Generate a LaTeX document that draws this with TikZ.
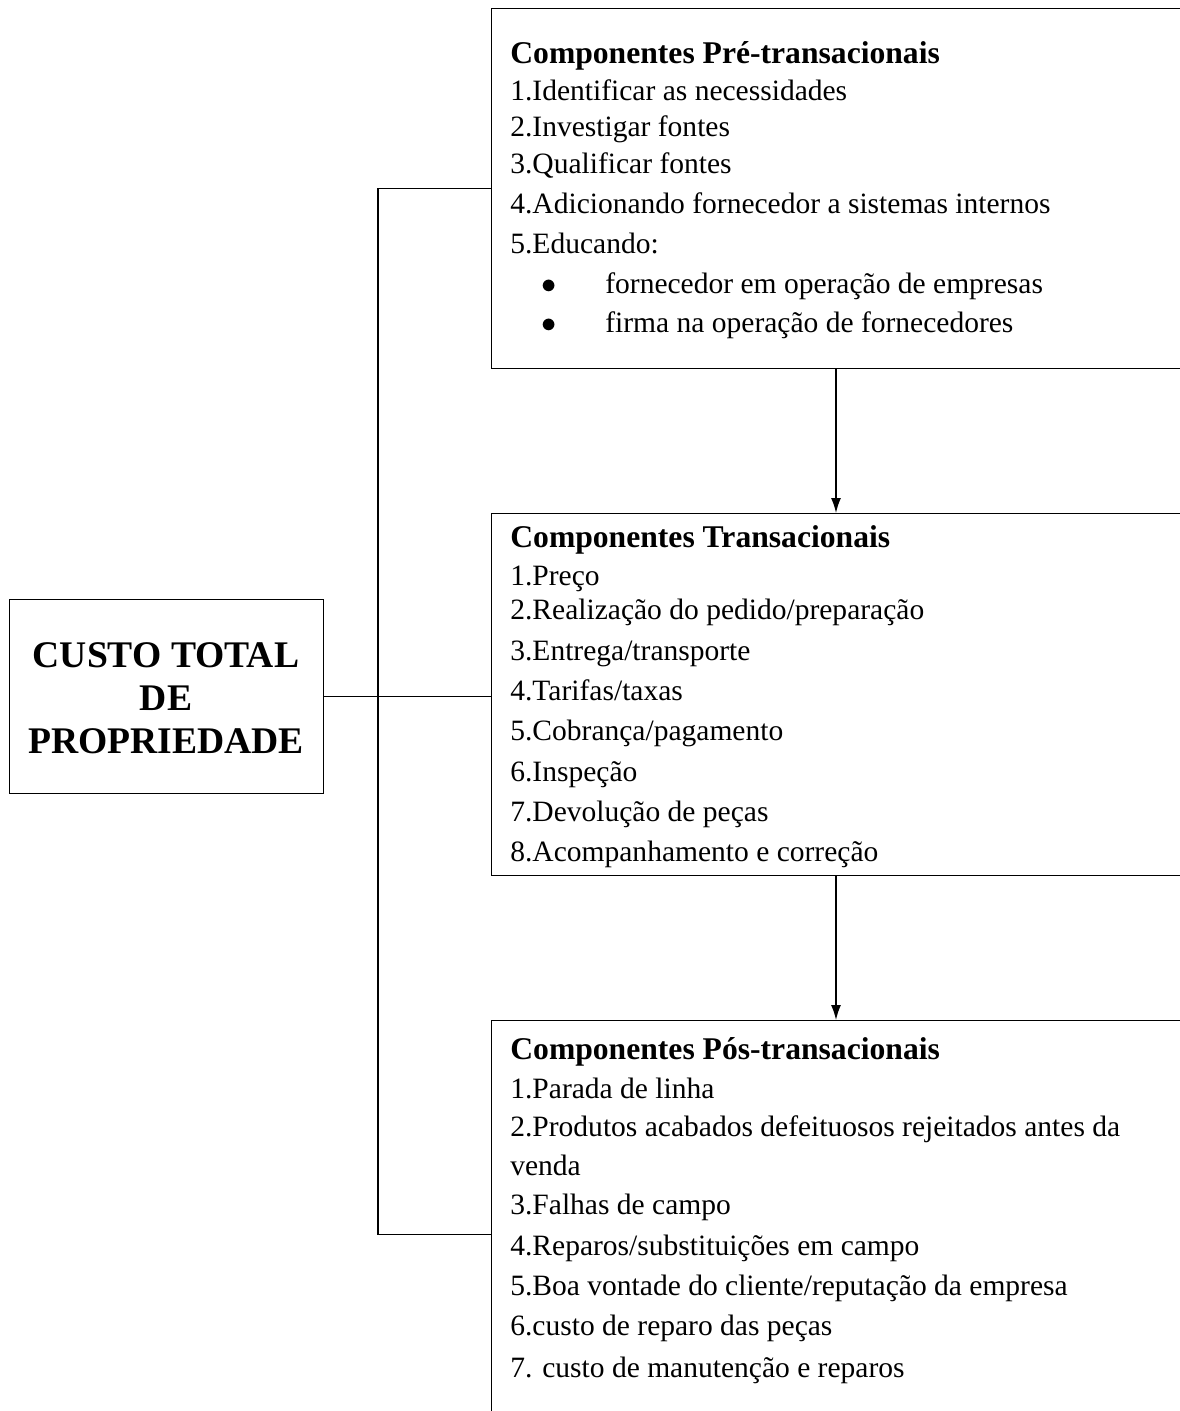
\documentclass[tikz,border=0pt]{standalone}
\usepackage{fontspec}
\setmainfont{Liberation Serif}
\usetikzlibrary{arrows.meta}

\tikzset{
  box/.style={draw, line width=0.8pt, anchor=north west, inner sep=0pt},
  item/.style={anchor=base west, inner sep=0pt, font=\fontsize{16.8}{20}\selectfont},
  head/.style={item, font=\fontsize{18}{20}\selectfont\bfseries},
  link/.style={line width=0.8pt},
  flow/.style={line width=0.8pt, -{Latex[length=3mm, width=2mm]}}
}
\newcommand{\dotitem}{\makebox[1.28cm][l]{$\bullet$}}

\begin{document}
\begin{tikzpicture}[x=0.02cm, y=-0.02cm]

        \useasboundingbox (0,0) rectangle (1180,1411);
        \clip (0,0) rectangle (1180,1411);

        \node[box, minimum width=6.28cm, minimum height=3.88cm] (cost) at (9,599) {};
        \node[box, minimum width=15.6cm, minimum height=7.2cm] (pre) at (491,8) {};
        \node[box, minimum width=15.6cm, minimum height=7.24cm] (trans) at (491,513) {};
        \node[box, minimum width=15.6cm, minimum height=8.56cm] (post) at (491,1020) {};

        % base = last line here
        \node[anchor=base, inner sep=0pt, align=center,
              font=\fontsize{21.4}{24.4}\selectfont\bfseries] (costtext) at (166,753)
              {CUSTO TOTAL\\DE\\PROPRIEDADE};

        % pre-transacionais
        \node[head] (pre-0) at (510,63) {Componentes Pré-transacionais};
        \foreach \y/\t [count=\i] in {100/{1.Identificar as necessidades},
                                       136/{2.Investigar fontes},
                                       173/{3.Qualificar fontes},
                                       213/{4.Adicionando fornecedor a sistemas internos},
                                       253/{5.Educando:}}
          \node[item] (pre-\i) at (510,\y) {\t};
        \node[item] (pre-b1) at (541,293) {\dotitem fornecedor em operação de empresas};
        \node[item] (pre-b2) at (541,332) {\dotitem firma na operação de fornecedores};

        % transacionais
        \node[head] (trans-0) at (510,547) {Componentes Transacionais};
        \foreach \y/\t [count=\i] in {585/{1.Preço},
                                       619/{2.Realização do pedido/preparação},
                                       660/{3.Entrega/transporte},
                                       700/{4.Tarifas/taxas},
                                       740/{5.Cobrança/pagamento},
                                       781/{6.Inspeção},
                                       821/{7.Devolução de peças},
                                       861/{8.Acompanhamento e correção}}
          \node[item] (trans-\i) at (510,\y) {\t};

        % pos-transacionais
        \node[head] (post-0) at (510,1059) {Componentes Pós-transacionais};
        \foreach \y/\t [count=\i] in {1098/{1.Parada de linha},
                                       1136/{2.Produtos acabados defeituosos rejeitados antes da},
                                       1175/{venda},
                                       1214/{3.Falhas de campo},
                                       1255/{4.Reparos/substituições em campo},
                                       1295/{5.Boa vontade do cliente/reputação da empresa},
                                       1335/{6.custo de reparo das peças},
                                       1377/{7. custo de manutenção e reparos}}
          \node[item] (post-\i) at (510,\y) {\t};

        \coordinate (spine) at (378,0);
        \coordinate (down) at (836,0);

        \draw[link] (pre.west) -- (pre.west -| spine) -- (post.west -| spine) -- (post.west);
        \draw[link] (cost.east) -- (cost.east -| trans.west);

        \draw[flow] (pre.south -| down) -- (trans.north -| down);
        \draw[flow] (trans.south -| down) -- (post.north -| down);

\end{tikzpicture}
\end{document}
